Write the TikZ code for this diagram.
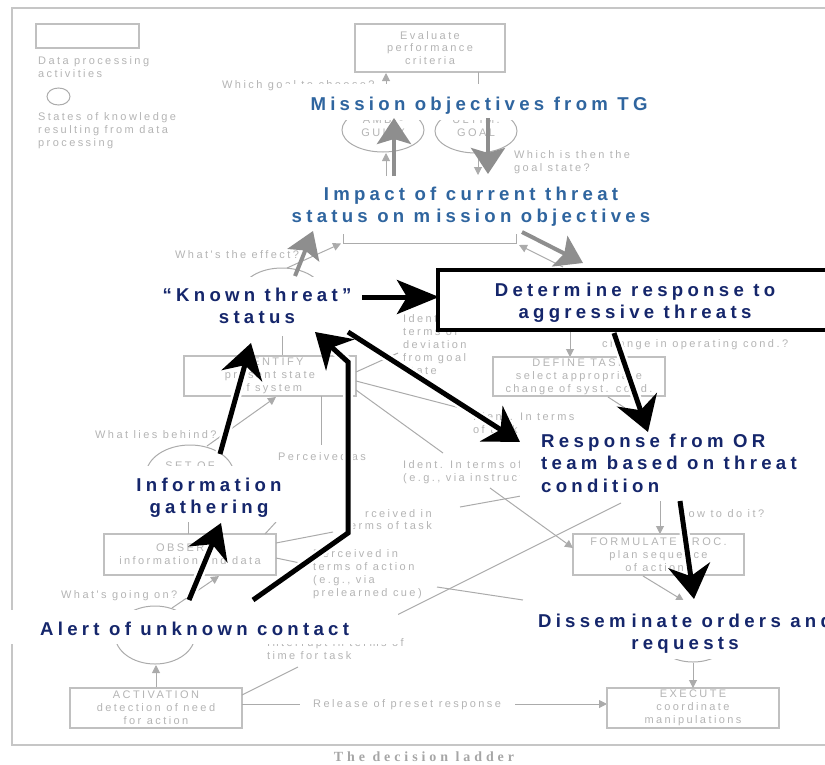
\documentclass[tikz,border=0pt]{standalone}
\usepackage{fontspec}
\usetikzlibrary{arrows.meta}
\setmainfont{Liberation Sans}
\newfontfamily\lblfont[LetterSpace=23]{Liberation Sans}
\newfontfamily\notefont[LetterSpace=22]{Liberation Sans}
\newfontfamily\capfont[LetterSpace=28]{Liberation Serif}

\definecolor{cNavy}{HTML}{15266B}
\definecolor{cSteel}{HTML}{2F659F}
\definecolor{cNote}{HTML}{B4B4B4}
\definecolor{cLine}{HTML}{ABABAB}
\definecolor{cBox}{HTML}{C0C0C0}
\definecolor{cOver}{HTML}{8E8E8E}
\definecolor{cFrame}{HTML}{C6C6C6}
\definecolor{cCap}{HTML}{A6A6A6}

% multi-line nodes are placed by the baseline of their last line
\tikzset{
  note/.style={font=\notefont\fontsize{11}{12.9}\selectfont, text=cNote, inner sep=0pt, anchor=base west, align=left},
  notec/.style={note, anchor=base, align=center},
  ladderbox/.style={draw=cBox, line width=1.2pt, inner sep=0pt, font=\notefont\fontsize{11}{12.9}\selectfont, text=cNote, align=center},
  ladderline/.style={draw=cLine, line width=1pt},
  ladderarrow/.style={ladderline, -{Triangle[length=8pt,width=8pt]}},
  statering/.style={draw=cLine, line width=1pt},
  whitecover/.style={fill=white, draw=none, inner sep=0pt},
  navylabel/.style={font=\lblfont\bfseries\fontsize{18.6}{22.7}\selectfont, text=cNavy, inner sep=0pt, anchor=base, align=center},
  steellabel/.style={navylabel, text=cSteel},
  halo/.style={draw=white, line width=10pt, shorten >=22pt, shorten <=1pt},
  bigblack/.style={draw=black, line width=5pt, -{Stealth[length=34pt,width=42pt,inset=11pt]}},
  biggray/.style={draw=cOver, line width=4pt, -{Stealth[length=26pt,width=34pt,inset=5pt]}},
}

\begin{document}
\begin{tikzpicture}[x=1pt,y=-1pt]
\useasboundingbox (0,0) rectangle (825,764);
\clip (0,0) rectangle (825,764);

% outer frame
\draw[cFrame, line width=2.2pt] (12,8) rectangle (850,745);

% legend
\node[ladderbox, minimum width=103, minimum height=24] (legbox) at (87.5,36) {};
\node[note] (legboxtxt) at (38,77) {Data processing\\activities};
\draw[statering] (58.5,96.5) ellipse [x radius=11.5, y radius=8.5];
\node[note] (legstatetxt) at (38,146) {States of knowledge\\resulting from data\\processing};

% top of the ladder
\node[ladderbox, minimum width=150, minimum height=48] (evalbox) at (430,48) {Evaluate\\performance\\criteria};
\node[note] (goalq) at (222,88) {Which goal to choose?};
\draw[ladderarrow] (386,88) -- (386,73);
\draw[ladderline] (478,72) -- (478,88);
\draw[statering] (383,130) ellipse [x radius=41, y radius=22];
\node[notec] (ambig) at (383,136) {AMBI-\\GUITY};
\draw[statering] (476,131) ellipse [x radius=41, y radius=22];
\node[notec] (ultim) at (476,136) {ULTIM.\\GOAL};
\draw[ladderarrow] (386,176) -- (386,153);
\draw[ladderarrow] (478,153) -- (478,175);
\node[note] (goalstate) at (514,171) {Which is then the\\goal state?};

% interpretation bracket
\draw[ladderline] (343,234) -- (343,243) -- (516,243) -- (516,234);
\draw[ladderarrow] (287,268) -- (341,243.5);
\draw[ladderarrow] (563,267) -- (519,245);
\node[note] (effectq) at (175,258) {What's the effect?};
\draw[statering] (282,292) ellipse [x radius=40, y radius=24];

% identify / define task level
\draw[ladderline] (282,335) -- (282,356);
\node[ladderbox, minimum width=172, minimum height=40] (identbox) at (270,376) {IDENTIFY\\present state\\of system};
\draw[ladderarrow] (570,330) -- (570,357);
\node[ladderbox, minimum width=172, minimum height=39] (definebox) at (579,376.5) {DEFINE TASK\\select appropriate\\change of syst. cond.};
\node[note] (opcond) at (602,347.7) {change in operating cond.?};
\node[note] (devtxt) at (403,374.3) {Ident. in\\terms of\\deviation\\from goal\\state};
\draw[ladderline] (356,372) -- (398,353);
\draw[ladderline] (356,381) -- (460,408);
\draw[ladderline] (356,390) -- (443,453);
\draw[ladderline] (321,396) -- (321,445);
\node[note] (percas) at (278,460.7) {Perceived as};
\node[note] (tasktxt) at (473,433) {Ident. In terms\\of task};
\node[note] (instrtxt) at (403,481.2) {Ident. In terms of\\(e.g., via instruction)};
\draw[ladderline] (608,397) -- (625,408);
\draw[statering] (190,475) ellipse [x radius=44, y radius=30];
\node[notec] (setof) at (190,469) {SET OF};
\draw[ladderarrow] (207,446) -- (276,397);
\node[note] (behindq) at (95,438) {What lies behind?};

% observe / formulate level
\node[note] (howq) at (678,517) {How to do it?};
\draw[ladderarrow] (660,501) -- (660,534);
\node[ladderbox, minimum width=171, minimum height=41] (formbox) at (658.5,554.5) {FORMULATE PROC.\\plan sequence\\of actions};
\draw[ladderarrow] (490,488) -- (573,548);
\draw[ladderline] (395,616) -- (621,503);
\node[ladderbox, minimum width=172, minimum height=41] (obsbox) at (190,554.5) {OBSERVE\\information and data};
\draw[ladderline] (188,522) -- (188,534);
\draw[ladderline] (265,534) -- (276,522);
\draw[ladderline] (276,543) -- (333,532);
\draw[ladderline] (460,507) -- (521,496);
\node[note] (perctask) at (365,517.7) {rceived in};
\node[note] (perctaskb) at (350,529.7) {erms of task};
\draw[ladderline] (276,558) -- (300,563);
\draw[ladderline] (437,587) -- (523,600);
\node[note] (percact) at (313,596.2) {Perceived in\\terms of action\\(e.g., via\\prelearned cue)};
\node[note] (goingq) at (61,598.5) {What's going on?};
\draw[ladderarrow] (172,608) -- (219,576);

% activation / execute level
\draw[statering] (155,635) ellipse [x radius=40, y radius=29];
\draw[ladderarrow] (156,688) -- (156,665);
\node[ladderbox, minimum width=172, minimum height=40] (actbox) at (156,708) {ACTIVATION\\detection of need\\for action};
\node[note] (interr) at (267,659.4) {Interrupt in terms of\\time for task};
\draw[ladderline] (242,695) -- (298,667);
\draw[ladderline] (242,704) -- (300,704);
\node[note] (release) at (313,707.5) {Release of preset response};
\draw[ladderarrow] (515,704) -- (607,704);
\node[ladderbox, minimum width=172, minimum height=40] (execbox) at (693,708) {EXECUTE\\coordinate\\manipulations};
\draw[ladderarrow] (643,576) -- (684,601);
\draw[statering] (693,640) ellipse [x radius=35, y radius=22];
\draw[ladderarrow] (693,663) -- (693,688);

% overlay labels
\node[whitecover, minimum width=377, minimum height=36] (missioncov) at (471.5,102) {};
\node[steellabel] (mission) at (479,110) {Mission objectives from TG};
\node[whitecover, minimum width=370, minimum height=57] (impactcov) at (470,205.5) {};
\node[steellabel] (impact) at (471,222.7) {Impact of current threat\\status on m\kern6pt ission objectives};
\node[whitecover, minimum width=210, minimum height=59] (knowncov) at (255,306.5) {};
\node[navylabel] (known) at (257,323.7) {“Known threat”\\status};
\node[draw=black, line width=3.5pt, fill=white, minimum width=394, minimum height=60, inner sep=0pt] (detbox) at (635,300) {};
\node[navylabel] (determine) at (635,318.7) {Determ\kern6pt ine response to\\aggressive threats};
\node[whitecover, minimum width=292, minimum height=75] (respcov) at (666,462.5) {};
\node[navylabel, anchor=base west, align=left] (response) at (541,492.4) {Response from OR\\team based on threat\\condition};
\node[whitecover, minimum width=162, minimum height=56] (infocov) at (209,494) {};
\node[navylabel] (info) at (209,513.7) {Information\\gathering};
\node[whitecover, minimum width=403, minimum height=34] (alertcov) at (196.5,627) {};
\node[navylabel, anchor=base west] (alert) at (40,635) {Alert of unknown contact};
\node[whitecover, minimum width=309, minimum height=59] (dissemcov) at (677.5,629.5) {};
\node[navylabel] (dissem) at (685,649.7) {Dissem\kern6pt inate orders and\\requests};

% arrow end points
\coordinate (kd0) at (362,297); \coordinate (kd1) at (439,297);
\coordinate (kr0) at (348,332); \coordinate (kr1) at (520,442);
\coordinate (dr0) at (614,333); \coordinate (dr1) at (648,432);
\coordinate (rd0) at (680,501); \coordinate (rd1) at (694,599);
\coordinate (ik0) at (220,454); \coordinate (ik1) at (251,343);
\coordinate (ai0) at (189,600); \coordinate (ai1) at (221,523);
\coordinate (ak0) at (253,600); \coordinate (akA) at (348,533);
\coordinate (akB) at (348,362); \coordinate (ak1) at (315,332);

% white halos under the black arrows
\draw[halo] (kr0) -- (kr1);
\draw[halo] (dr0) -- (dr1);
\draw[halo] (rd0) -- (rd1);
\draw[halo] (ik0) -- (ik1);
\draw[halo] (ai0) -- (ai1);
\draw[halo] (ak0) -- (akA) -- (akB) -- (ak1);

% black arrows
\draw[bigblack, -{Stealth[length=42pt,width=34pt,inset=10pt]}] (kd0) -- (kd1);
\draw[bigblack] (kr0) -- (kr1);
\draw[bigblack] (dr0) -- (dr1);
\draw[bigblack] (rd0) -- (rd1);
\draw[bigblack] (ik0) -- (ik1);
\draw[bigblack] (ai0) -- (ai1);
\draw[bigblack] (ak0) -- (akA) -- (akB) -- (ak1);

% grey arrows
\coordinate (gu0) at (394,176); \coordinate (gu1) at (394,118);
\coordinate (gd0) at (488,118); \coordinate (gd1) at (488,174);
\coordinate (gk0) at (295,276); \coordinate (gk1) at (313,231);
\coordinate (gi0) at (522,232); \coordinate (gi1) at (583,263);
\draw[biggray] (gu0) -- (gu1);
\draw[biggray] (gd0) -- (gd1);
\draw[biggray] (gk0) -- (gk1);
\draw[biggray] (gi0) -- (gi1);

% caption
\node[font=\capfont\bfseries\fontsize{14}{16}\selectfont, text=cCap, anchor=base, inner sep=0pt] (caption) at (424,761) {The decision ladder};
\end{tikzpicture}
\end{document}
